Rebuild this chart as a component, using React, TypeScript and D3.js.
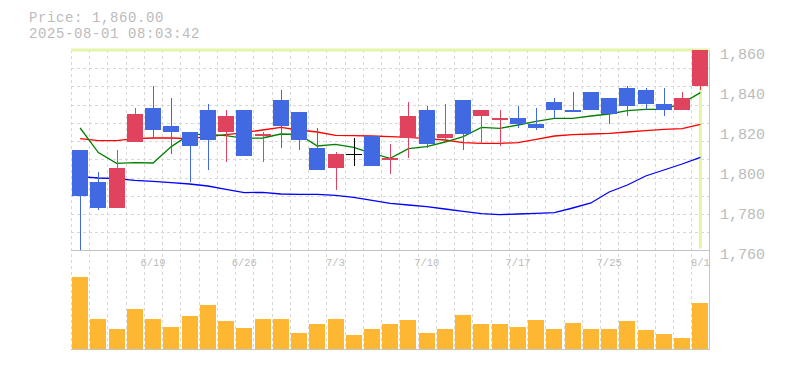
import React from "react";
import * as d3 from "d3";

const dates = ["6/13","6/16","6/17","6/18","6/19","6/20","6/23","6/24","6/25","6/26","6/27","6/30","7/1","7/2","7/3","7/4","7/7","7/8","7/9","7/10","7/11","7/14","7/15","7/16","7/17","7/18","7/22","7/23","7/24","7/25","7/28","7/29","7/30","7/31","8/1"];
const dateLabelIdx = [4, 9, 14, 19, 24, 29, 34];

const opens  = [1810,1794,1781,1814,1831,1822,1819,1830,1819,1830,1817,1835,1829,1811,1801,1808,1817,1805,1816,1830,1816,1835,1827,1825,1826,1823,1834,1830,1839,1836,1841,1840,1833,1830,1842];
const highs  = [1810,1799,1810,1831,1842,1836,1819,1833,1830,1830,1819,1840,1829,1821,1809,1816,1817,1813,1834,1832,1833,1835,1830,1830,1832,1831,1836,1839,1839,1836,1842,1841,1841,1839,1860];
const lows   = [1759,1780,1781,1814,1816,1808,1794,1800,1804,1807,1804,1811,1810,1800,1790,1802,1802,1798,1806,1811,1815,1810,1813,1812,1821,1820,1826,1829,1830,1823,1827,1830,1827,1830,1840];
const closes = [1787,1781,1801,1828,1820,1819,1812,1815,1827,1807,1818,1822,1815,1800,1808,1808,1802,1806,1827,1813,1818,1818,1830,1826,1823,1821,1830,1829,1830,1828,1832,1833,1830,1836,1860];
const volumes = [72800,30600,19400,40800,29600,22400,32700,43900,27600,21400,29600,29600,16300,24500,30600,13300,19400,25500,28600,16300,20400,33700,25500,25500,22400,28600,19400,26500,20400,19400,27600,18400,14300,11200,46900];

const maShort = [1821,1808.7,1803.3,1803.7,1803.5,1811.7,1817.8,1817.8,1817.2,1815.8,1816,1818,1817.8,1812,1812.8,1811.3,1808.3,1805.8,1810.7,1811.7,1814,1816.7,1821.3,1820.8,1822.5,1824.3,1825.8,1825.8,1827,1828,1829.7,1830.3,1830.3,1833.3,1838.7];
const maMid = [1815.7,1814.7,1814.7,1815.7,1816,1816,1815.7,1816.7,1817.7,1818.7,1820,1821.3,1820,1819,1817.3,1817.2,1817,1816.7,1816.3,1815.7,1815,1813.7,1813.3,1813.3,1813.7,1815.3,1817,1817.7,1818,1818.3,1819,1819.7,1820.3,1820.7,1822.8];
const maLong = [1796.7,1796,1795.7,1794.8,1794.3,1793.7,1793,1792,1790.3,1788.7,1788.8,1788,1787.8,1787.8,1787.3,1786.3,1784.8,1783.3,1782.5,1781.7,1780.5,1779.3,1778.2,1777.7,1778,1778.3,1778.7,1781,1783.5,1789,1792.5,1797,1800,1803,1806.3];

const priceTicks = [1760, 1780, 1800, 1820, 1840, 1860];
const lastPrice = 1860;
const timestamp = "2025-08-01 08:03:42";

const W = 785, H = 370;
const L = 71, R = 709.5, PT = 50, PB = 250.5, VB = 349.5, VBase = 348.5;

export default function App() {
  const idx = d3.range(dates.length);
  const x = d3.scaleBand<number>().domain(idx).range([L, R]).paddingInner(0).paddingOuter(0);
  const bw = x.bandwidth();
  const cx = (i: number) => (x(i) as number) + bw / 2;
  const bodyW = Math.round(bw * 0.87);
  const y = d3.scaleLinear().domain([1760, 1860]).range([PB - 0.5, PT]);
  const yv = d3.scaleLinear().domain([0, 100000]).range([VBase, VBase - 98]);
  const fmt = d3.format(",");
  const line = d3.line<number>().x((_, i) => cx(i)).y((d) => y(d));

  const hGrid = d3.range(1, 11).map((k) => PT + (k * (PB - PT)) / 11);
  const vGrid = d3.range(0, dates.length).map((k) => L + k * bw);

  const lastI = dates.length - 1;

  return (
    <svg width={W} height={H} style={{ position: "absolute", left: 0, top: 0, background: "#fff" }}
      fontFamily="'Liberation Mono', 'DejaVu Sans Mono', monospace">
      <text x={29} y={22} fontSize={14} letterSpacing={0.6} fill="#bbb">{"Price: " + d3.format(",.2f")(lastPrice)}</text>
      <text x={29} y={38} fontSize={14} letterSpacing={0.6} fill="#bbb">{timestamp}</text>

      {/* grid */}
      <g stroke="#d8d8d8" strokeDasharray="3,3" strokeWidth={1} shapeRendering="crispEdges">
        {hGrid.map((gy, i) => (
          <line key={"h" + i} x1={L} x2={R} y1={Math.round(gy) + 0.5} y2={Math.round(gy) + 0.5} />
        ))}
        {vGrid.map((gx, i) => (
          <line key={"v" + i} x1={Math.round(gx) + 0.5} x2={Math.round(gx) + 0.5} y1={PT} y2={VB} />
        ))}
      </g>

      {/* borders */}
      <g stroke="#c4c4c4" strokeWidth={1} shapeRendering="crispEdges" fill="none">
        <line x1={L} x2={R} y1={PB} y2={PB} />
        <line x1={L} x2={R} y1={VB} y2={VB} />
        <line x1={R} x2={R} y1={PT} y2={VB} />
      </g>

      {/* highlight lines */}
      <line x1={L} x2={R} y1={y(lastPrice)} y2={y(lastPrice)} stroke="#e4f4a8" strokeWidth={3} />
      <line x1={cx(lastI)} x2={cx(lastI)} y1={PT} y2={PB - 2} stroke="#e4f4a8" strokeWidth={3} />

      {/* volume */}
      <g fill="#fdb733" shapeRendering="crispEdges">
        {volumes.map((v, i) => (
          <rect key={i} x={Math.round(cx(i) - bodyW / 2)} y={yv(v)} width={bodyW} height={VBase - yv(v)} />
        ))}
      </g>

      {/* moving averages */}
      <path d={line(maLong) || ""} fill="none" stroke="#0000ff" strokeWidth={1.3} />
      <path d={line(maMid) || ""} fill="none" stroke="#ff0000" strokeWidth={1.3} />
      <path d={line(maShort) || ""} fill="none" stroke="#008000" strokeWidth={1.3} />

      {/* candles */}
      <g shapeRendering="crispEdges">
        {idx.map((i) => {
          const o = opens[i], c = closes[i];
          const col = c > o ? "#e0435e" : c < o ? "#4169e1" : "#000";
          const xc = Math.round(cx(i)) + 0.5;
          const top = y(Math.max(o, c));
          const bot = y(Math.min(o, c));
          return (
            <g key={i}>
              <line x1={xc} x2={xc} y1={y(highs[i])} y2={Math.min(y(lows[i]), PB - 0.5)} stroke={col} strokeWidth={1} />
              {c === o ? (
                <line x1={Math.round(cx(i) - bodyW / 2)} x2={Math.round(cx(i) + bodyW / 2)} y1={Math.round(top) + 0.5} y2={Math.round(top) + 0.5} stroke={col} strokeWidth={1} />
              ) : (
                <rect x={Math.round(cx(i) - bodyW / 2)} y={top} width={bodyW} height={Math.max(1, bot - top)} fill={col} />
              )}
            </g>
          );
        })}
      </g>

      {/* price axis labels */}
      {priceTicks.map((t) => (
        <text key={t} x={720} y={y(t) + 8.5} fontSize={15} fill="#bbb">{fmt(t)}</text>
      ))}

      {/* date labels */}
      {dateLabelIdx.map((i) => (
        <text key={i} x={cx(i)} y={266} fontSize={10.5} fill="#bbb" textAnchor="middle">{dates[i]}</text>
      ))}
    </svg>
  );
}
